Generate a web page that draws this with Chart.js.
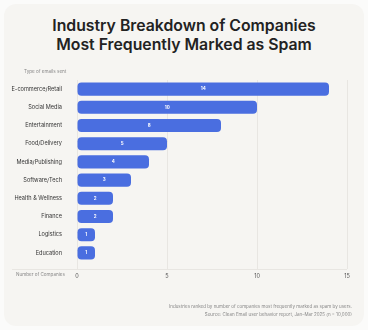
<!DOCTYPE html>
<html lang="en">
<head>
    <meta charset="UTF-8">
    <title>Industry Breakdown of Companies Most Frequently Marked as Spam</title>
    <style>
        body {
            margin: 0;
            width: 368px;
            height: 330px;
            background: #fbfbfa;
            font-family: Inter, "Noto Sans", sans-serif;
            overflow: hidden;
        }
        #card {
            position: absolute;
            left: 4px;
            top: 4px;
            width: 360px;
            height: 322px;
            background: #f6f5f2;
            border-radius: 12px;
        }
        h1 {
            position: absolute;
            left: 0;
            top: 16px;
            width: 368px;
            margin: 0;
            text-align: center;
            font-size: 15.8px;
            line-height: 19px;
            font-weight: 600;
            color: #222;
        }
        .axis-note {
            position: absolute;
            font-size: 4.6px;
            color: #888;
            white-space: nowrap;
        }
        #foot {
            position: absolute;
            right: 16px;
            top: 303px;
            text-align: right;
            font-size: 4.5px;
            line-height: 8px;
            color: #888;
        }
        canvas {
            position: absolute;
            left: 0;
            top: 0;
        }
    </style>
</head>
<body>
    <div id="card"></div>
    <h1>Industry Breakdown of Companies<br>Most Frequently Marked as Spam</h1>
    <canvas id="spamChart" width="368" height="330"></canvas>
    <div class="axis-note" style="left:24px; top:69px;">Type of emails sent</div>
    <div class="axis-note" style="left:16px; top:272px;">Number of Companies</div>
    <div id="foot">
        Industries ranked by number of companies most frequently marked as spam by users.<br>
        Source: Clean Email user behavior report, Jan–Mar 2025 (n = 10,000)
    </div>

    <script src="https://cdn.jsdelivr.net/npm/chart.js"></script>
    <script>
        const industries = ['E-commerce/Retail', 'Social Media', 'Entertainment', 'Food/Delivery', 'Media/Publishing',
            'Software/Tech', 'Health & Wellness', 'Finance', 'Logistics', 'Education'];
        const companies = [14, 10, 8, 5, 4, 3, 2, 2, 1, 1];
        const xTicks = [0, 5, 10, 15];

        const gridColor = '#e8e6e2';

        // etiquetas blancas dentro de cada barra
        const barLabels = {
            id: 'barLabels',
            afterDatasetsDraw(chart) {
                const ctx = chart.ctx;
                const meta = chart.getDatasetMeta(0);
                ctx.save();
                ctx.fillStyle = '#ffffff';
                ctx.font = 'bold 4.5px Inter, sans-serif';
                ctx.textAlign = 'center';
                ctx.textBaseline = 'middle';
                meta.data.forEach((bar, i) => {
                    const props = bar.getProps(['x', 'y', 'base'], true);
                    ctx.fillText(companies[i], (props.x + props.base) / 2, props.y);
                });
                ctx.restore();
            }
        };

        // linea horizontal bajo el area del grafico
        const baseLine = {
            id: 'baseLine',
            beforeDatasetsDraw(chart) {
                const ctx = chart.ctx;
                const y = chart.chartArea.bottom + 7.5;
                ctx.save();
                ctx.strokeStyle = gridColor;
                ctx.lineWidth = 1;
                ctx.beginPath();
                ctx.moveTo(12, y);
                ctx.lineTo(chart.chartArea.right, y);
                ctx.stroke();
                ctx.restore();
            }
        };

        const ctx = document.getElementById('spamChart').getContext('2d');
        new Chart(ctx, {
            type: 'bar',
            data: {
                labels: industries,
                datasets: [{
                    data: companies,
                    backgroundColor: '#4a6ee0',
                    borderRadius: 4,
                    borderSkipped: false,
                    categoryPercentage: 0.72,
                    barPercentage: 1
                }]
            },
            options: {
                indexAxis: 'y',
                responsive: false,
                animation: false,
                layout: { padding: { top: 80, bottom: 48, right: 21, left: 0 } },
                plugins: {
                    legend: { display: false },
                    tooltip: { enabled: false }
                },
                scales: {
                    x: {
                        min: 0,
                        max: 15,
                        afterBuildTicks: (axis) => { axis.ticks = xTicks.map(v => ({ value: v })); },
                        grid: { color: gridColor, drawTicks: true, tickLength: 7, tickColor: gridColor },
                        border: { display: false },
                        ticks: { color: '#555', font: { size: 5.5, family: 'Inter' }, padding: 4 },
                        afterFit: (axis) => { axis.height = 20; }
                    },
                    y: {
                        grid: { display: false },
                        border: { display: false },
                        ticks: { color: '#333', font: { size: 5.6, family: 'Inter' }, padding: 7 },
                        afterFit: (axis) => { axis.width = 77; }
                    }
                }
            },
            plugins: [barLabels, baseLine]
        });
    </script>
</body>
</html>
